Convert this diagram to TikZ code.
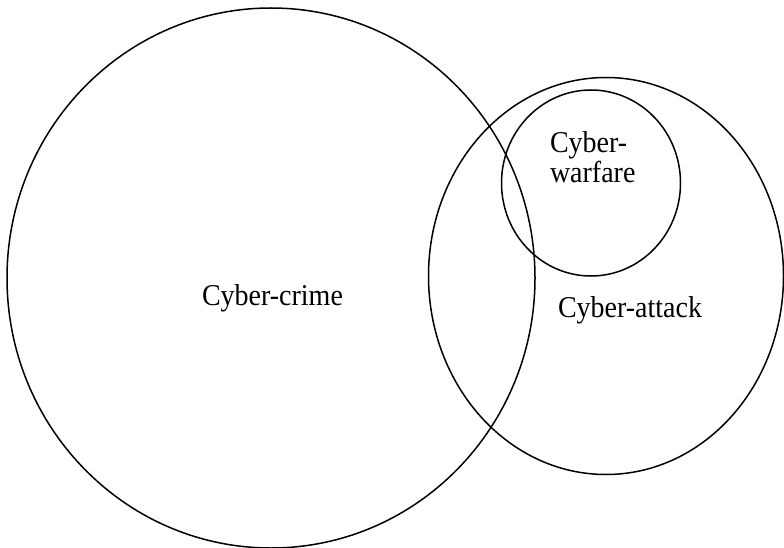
\documentclass[tikz,border=0pt]{standalone}
\usepackage{fontspec}
\setmainfont{Liberation Serif}
\usetikzlibrary{shapes.geometric}
\newcommand{\tallt}[1]{\scalebox{1}[1.08]{#1}}
\begin{document}
\begin{tikzpicture}[x=1pt,y=-1pt,
  setline/.style={draw=black, line width=1.5pt, ellipse, inner sep=0pt, outer sep=0pt},
  lbl/.style={inner sep=0pt, outer sep=0pt, font=\fontsize{28}{30}\selectfont, anchor=base west}]
\useasboundingbox (0,0) rectangle (784,548);
\node[setline, minimum width=528pt, minimum height=540pt] (crime) at (271,278) {};
\node[setline, minimum width=355pt, minimum height=397pt] (attack) at (606,276) {};
\node[setline, minimum width=179pt, minimum height=186pt] (warfare) at (591,183) {};
\node[lbl] (tcrime) at (202,305) {\tallt{Cyber-crime}};
\node[lbl] (tattack) at (558,317) {\tallt{Cyber-attack}};
\node[lbl, align=left] (twar) at (550,183) {\tallt{Cyber-}\\\tallt{warfare}};
\end{tikzpicture}
\end{document}
